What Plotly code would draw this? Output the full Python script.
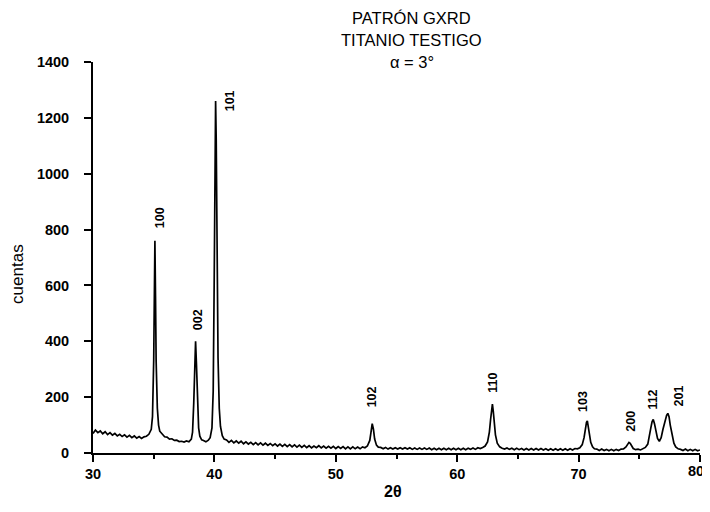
import plotly.graph_objects as go

# ---- data (2-theta in degrees, counts) ----
two_theta = [
    30.0, 30.2, 30.4, 30.6, 30.8, 31.0, 31.2, 31.4, 31.6, 31.8, 32.0, 32.2, 32.4, 32.6, 32.8,
    33.0, 33.2, 33.4, 33.6, 33.8, 34.0, 34.2, 34.4, 34.6,
    34.8, 34.9, 35.0, 35.05, 35.1, 35.15, 35.2, 35.3, 35.4, 35.5,
    35.7, 35.9, 36.1, 36.3, 36.5, 36.7, 36.9, 37.1, 37.3, 37.5, 37.7, 37.9, 38.1, 38.2,
    38.3, 38.38, 38.45, 38.52, 38.6, 38.7, 38.8, 38.95, 39.1, 39.3, 39.5, 39.65, 39.8,
    39.9, 39.98, 40.05, 40.1, 40.15, 40.22, 40.3, 40.4, 40.5, 40.65, 40.8,
    41.0, 41.2, 41.4, 41.6, 41.8, 42.0, 42.2, 42.4, 42.6, 42.8, 43.0, 43.2, 43.4, 43.6, 43.8,
    44.0, 44.2, 44.4, 44.6, 44.8, 45.0, 45.2, 45.4, 45.6, 45.8, 46.0, 46.2, 46.4, 46.6, 46.8,
    47.0, 47.2, 47.4, 47.6, 47.8, 48.0, 48.2, 48.4, 48.6, 48.8, 49.0, 49.2, 49.4, 49.6, 49.8,
    50.0, 50.2, 50.4, 50.6, 50.8, 51.0, 51.2, 51.4, 51.6, 51.8, 52.0, 52.2, 52.4, 52.6, 52.8,
    52.9, 53.0, 53.1, 53.2, 53.35, 53.5,
    53.7, 53.9, 54.1, 54.3, 54.5, 54.7, 54.9, 55.1, 55.3, 55.5, 55.7, 55.9, 56.1, 56.3, 56.5,
    56.7, 56.9, 57.1, 57.3, 57.5, 57.7, 57.9, 58.1, 58.3, 58.5, 58.7, 58.9, 59.1, 59.3, 59.5,
    59.7, 59.9, 60.1, 60.3, 60.5, 60.7, 60.9, 61.1, 61.3, 61.5, 61.7, 61.9, 62.1, 62.3, 62.5, 62.65,
    62.75, 62.85, 62.9, 62.97, 63.05, 63.15, 63.3, 63.5, 63.7,
    63.9, 64.1, 64.3, 64.5, 64.7, 64.9, 65.1, 65.3, 65.5, 65.7, 65.9, 66.1, 66.3, 66.5, 66.7,
    66.9, 67.1, 67.3, 67.5, 67.7, 67.9, 68.1, 68.3, 68.5, 68.7, 68.9, 69.1, 69.3, 69.5, 69.7,
    69.9, 70.1, 70.3, 70.45,
    70.55, 70.65, 70.72, 70.8, 70.9, 71.0, 71.15, 71.3,
    71.5, 71.7, 71.9, 72.1, 72.3, 72.5, 72.7, 72.9, 73.1, 73.3, 73.5, 73.7, 73.9, 74.05,
    74.15, 74.25, 74.35, 74.5, 74.7, 74.9, 75.1, 75.3, 75.5, 75.7, 75.85,
    75.95, 76.05, 76.15, 76.25, 76.35, 76.5, 76.65, 76.8, 76.95,
    77.1, 77.25, 77.35, 77.45, 77.55, 77.7, 77.85, 78.0, 78.2,
    78.4, 78.6, 78.8, 79.0, 79.2, 79.4, 79.6, 79.8, 80.0,
]
counts = [
    70, 82, 73, 79, 69, 76, 66, 73, 64, 70, 61, 67, 59, 65, 57,
    63, 55, 61, 53, 59, 52, 58, 60, 67,
    85, 130, 330, 620, 760, 560, 330, 160, 100, 78,
    68, 58, 57, 50, 51, 45, 46, 41, 42, 39, 43, 40, 50, 75,
    180, 340, 400, 320, 170, 90, 60, 47, 45, 40, 46, 55, 90,
    220, 600, 1100, 1260, 1120, 700, 340, 160, 95, 62, 50,
    47, 38, 45, 36, 43, 35, 42, 33, 40, 32, 38, 30, 37, 29, 36,
    28, 35, 27, 34, 26, 33, 25, 32, 24, 31, 23, 30, 22, 29, 21,
    28, 20, 27, 19, 26, 18, 25, 19, 26, 18, 25, 17, 24, 17, 24,
    16, 23, 16, 23, 15, 22, 15, 22, 15, 21, 15, 22, 19, 25, 45,
    75, 105, 85, 50, 28, 21,
    20, 15, 20, 14, 19, 14, 19, 14, 19, 14, 19, 14, 19, 13, 18,
    13, 18, 13, 18, 13, 18, 12, 17, 12, 17, 12, 17, 12, 17, 12,
    17, 12, 17, 12, 17, 12, 17, 13, 18, 13, 19, 16, 20, 25, 40, 75,
    120, 170, 175, 150, 105, 65, 35, 22, 17,
    14, 18, 13, 17, 12, 17, 12, 16, 11, 16, 11, 16, 11, 16, 11,
    16, 11, 15, 10, 15, 10, 15, 10, 15, 10, 15, 10, 15, 11, 16,
    15, 19, 30, 55,
    85, 110, 115, 95, 62, 38, 22, 15,
    14, 9, 14, 9, 13, 8, 13, 8, 13, 9, 14, 15, 22, 33,
    38, 35, 25, 16, 12, 14, 11, 16, 20, 32, 60,
    90, 112, 120, 105, 78, 52, 42, 55, 85,
    115, 135, 142, 130, 100, 60, 35, 22, 15,
    13, 9, 14, 8, 13, 8, 13, 8, 11,
]

peak_labels = ["100", "002", "101", "102", "110", "103", "200", "112", "201"]
label_x = [35.53, 38.66, 41.3, 53.0, 63.0, 70.35, 74.3, 76.1, 78.3]
label_y = [841, 476, 1260, 200, 250, 186, 115, 190, 204]

title_lines = ["PATRÓN GXRD", "TITANIO TESTIGO", "α = 3°"]
y_ticks = [0, 200, 400, 600, 800, 1000, 1200, 1400]
x_ticks = [30, 40, 50, 60, 70, 80]
x_tick_text = ["30", "40", "50", "60", "70", ""]   # the last label is drawn below, nudged inward
last_x_label = "80"

FONT = "Liberation Sans, Arial, sans-serif"

fig = go.Figure()
fig.add_trace(go.Scatter(
    x=two_theta, y=counts, mode="lines",
    line=dict(color="black", width=1.7),
    showlegend=False, hoverinfo="skip",
))

annotations = []
for txt, lx, ly in zip(peak_labels, label_x, label_y):
    annotations.append(dict(
        x=lx, y=ly, xref="x", yref="y", text=txt, showarrow=False,
        textangle=-90, font=dict(family=FONT, size=12.5, color="black", weight="bold"),
        xanchor="center", yanchor="middle",
    ))

title_y = [1.1125, 1.056, 1.0]
for txt, ty in zip(title_lines, title_y):
    annotations.append(dict(
        x=0.5255, y=ty, xref="paper", yref="paper", text=txt, showarrow=False,
        font=dict(family=FONT, size=16.5, color="black"),
        xanchor="center", yanchor="middle",
    ))

annotations.append(dict(
    x=-0.1236, y=0.458, xref="paper", yref="paper", text="cuentas", showarrow=False,
    textangle=-90, font=dict(family=FONT, size=17, color="black"),
    xanchor="center", yanchor="middle",
))
annotations.append(dict(
    x=0.494, y=-0.0997, xref="paper", yref="paper", text="2θ", showarrow=False,
    font=dict(family=FONT, size=16, color="black", weight="bold"),
    xanchor="center", yanchor="middle",
))
annotations.append(dict(
    x=x_ticks[-1], y=-0.047, xref="x", yref="paper", text=last_x_label, showarrow=False,
    font=dict(family=FONT, size=14.5, color="black", weight="bold"),
    xanchor="center", yanchor="middle", xshift=-4,
))

# The page body adds an 8 px offset, so the figure is sized to fit the window.
fig.update_layout(
    width=702, height=496,
    margin=dict(l=85, r=10, t=54, b=51, autoexpand=False),
    paper_bgcolor="white", plot_bgcolor="white",
    annotations=annotations,
    xaxis=dict(
        range=[30, 80], tickvals=x_ticks, ticktext=x_tick_text,
        automargin=False,
        showline=True, linecolor="black", linewidth=1.8,
        ticks="outside", ticklen=7, tickwidth=1.8, tickcolor="black",
        minor=dict(tickvals=[35, 45, 55, 65, 75], ticks="outside", ticklen=4,
                   tickwidth=1.5, tickcolor="black"),
        showgrid=False, zeroline=False,
        tickfont=dict(family=FONT, size=14.5, color="black", weight="bold"),
    ),
    yaxis=dict(
        range=[0, 1400], tickvals=y_ticks, ticktext=[str(v) for v in y_ticks],
        automargin=False,
        showline=True, linecolor="black", linewidth=1.8,
        ticks="outside", ticklen=7, tickwidth=1.8, tickcolor="black",
        ticklabelstandoff=12,
        showgrid=False, zeroline=False,
        tickfont=dict(family=FONT, size=14.5, color="black", weight="bold"),
    ),
)

fig.write_html("out.html")
